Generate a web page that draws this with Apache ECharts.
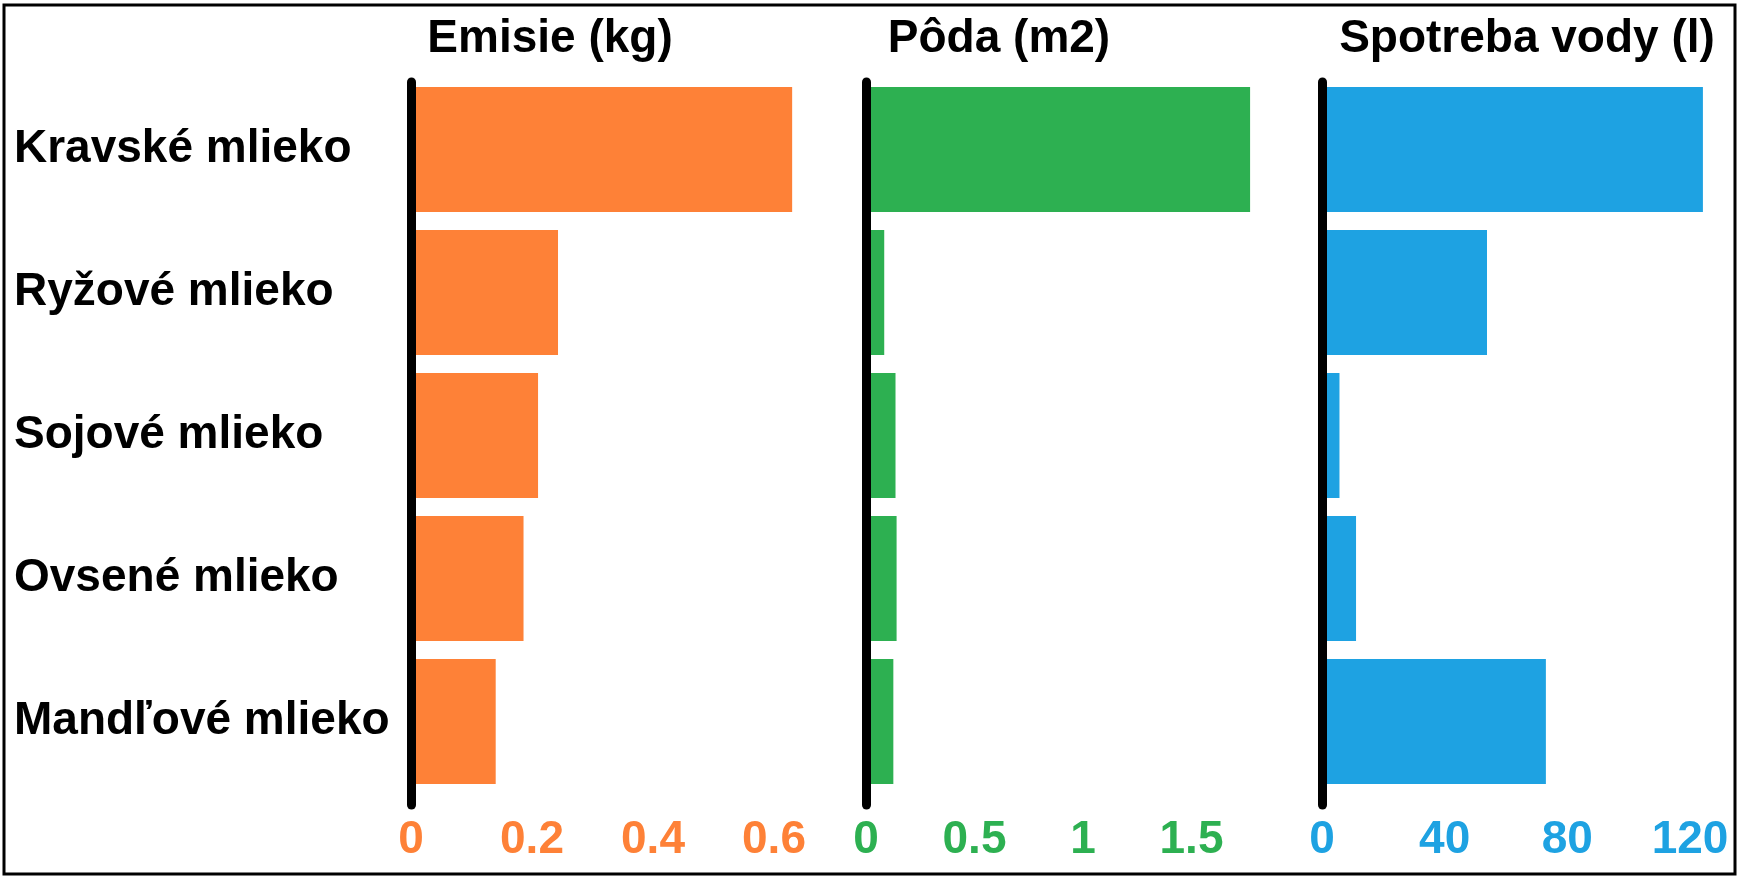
<!DOCTYPE html>
<html>
<head>
<meta charset="utf-8">
<script src="https://cdn.jsdelivr.net/npm/echarts@6/dist/echarts.min.js"></script>
<style>
  html, body { margin: 0; padding: 0; background: #fff; }
  #chart { width: 1740px; height: 876px; }
</style>
</head>
<body>
<div id="chart"></div>
<script>
// kategórie (zhora nadol)
var categories = ['Kravské mlieko', 'Ryžové mlieko', 'Sojové mlieko', 'Ovsené mlieko', 'Mandľové mlieko'];

// hodnoty jednotlivých panelov
var emisie = [0.63, 0.243, 0.21, 0.186, 0.14];
var poda = [1.77, 0.084, 0.136, 0.141, 0.126];
var voda = [124.2, 53.8, 5.7, 11.1, 73];

var titles = ['Emisie (kg)', 'Pôda (m2)', 'Spotreba vody (l)'];
var colors = ['#FE8137', '#2DB051', '#1EA2E2'];

var font = '"Liberation Sans", Arial, sans-serif';

var chart = echarts.init(document.getElementById('chart'));

// panely: ľavý okraj, šírka, max, interval
var panels = [
  { left: 411, width: 423.5, max: 0.7, interval: 0.2, data: emisie },
  { left: 866, width: 434, max: 2, interval: 0.5, data: poda },
  { left: 1322, width: 398.7, max: 130, interval: 40, data: voda }
];
var titleX = [550, 999, 1527];

var grids = [], xAxes = [], yAxes = [], series = [], titleList = [];

panels.forEach(function (p, i) {
  grids.push({ left: p.left, width: p.width, top: 78, height: 715 });

  xAxes.push({
    type: 'value',
    gridIndex: i,
    min: 0,
    max: p.max,
    interval: p.interval,
    axisLine: { show: false },
    axisTick: { show: false },
    splitLine: { show: false },
    axisLabel: {
      showMaxLabel: false,
      margin: 24,
      color: colors[i],
      fontSize: 46,
      fontWeight: 'bold',
      fontFamily: font
    }
  });

  yAxes.push({
    type: 'category',
    gridIndex: i,
    inverse: true,
    data: categories,
    axisLine: { show: false },
    axisTick: { show: false },
    axisLabel: i === 0 ? {
      show: true,
      align: 'left',
      margin: 397,
      color: '#000',
      fontSize: 46,
      fontWeight: 'bold',
      fontFamily: font
    } : { show: false }
  });

  series.push({
    type: 'bar',
    xAxisIndex: i,
    yAxisIndex: i,
    data: p.data,
    barWidth: 125,
    itemStyle: { color: colors[i] },
    silent: true
  });

  titleList.push({
    text: titles[i],
    left: titleX[i],
    top: 16,
    padding: 0,
    textAlign: 'center',
    textStyle: { color: '#000', fontSize: 46, fontWeight: 'bold', fontFamily: font }
  });
});

// samostatné osi len pre hrubú čiernu čiaru pri nule (siaha o niečo nižšie než pruhy)
panels.forEach(function (p, i) {
  var g = grids.length;
  grids.push({ left: p.left, width: p.width, top: 82, height: 723 });
  xAxes.push({ type: 'value', gridIndex: g, min: 0, max: p.max, show: false });
  yAxes.push({
    type: 'category',
    gridIndex: g,
    data: categories,
    z: 5,
    axisLine: { show: true, lineStyle: { color: '#000', width: 9, cap: 'round' } },
    axisTick: { show: false },
    axisLabel: { show: false }
  });
});

chart.setOption({
  backgroundColor: '#fff',
  animation: false,
  title: titleList,
  grid: grids,
  xAxis: xAxes,
  yAxis: yAxes,
  series: series,
  graphic: [{
    type: 'rect',
    shape: { x: 4, y: 5, width: 1731, height: 869 },
    style: { fill: null, stroke: '#000', lineWidth: 3 },
    silent: true
  }]
});
</script>
</body>
</html>
